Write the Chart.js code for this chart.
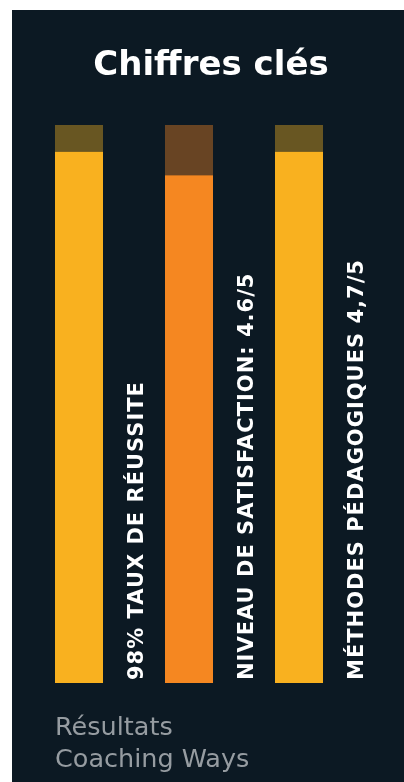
<!DOCTYPE html>
<html>
<head>
<meta charset="utf-8">
<script src="https://cdn.jsdelivr.net/npm/chart.js@4.4.1/dist/chart.umd.min.js"></script>
<style>
  html, body { margin: 0; padding: 0; background: #ffffff; }
  body { width: 404px; height: 782px; position: relative; overflow: hidden; }
  #panel { position: absolute; left: 12px; top: 10px; width: 392px; height: 772px; background: #0c1923; }
  #chartBox { position: absolute; left: 0; top: 0; width: 392px; height: 772px; }
  #title { position: absolute; left: 3px; top: 37px; width: 392px; text-align: center;
           font-family: "DejaVu Sans", sans-serif; font-weight: bold; font-size: 34px; line-height: 32px; color: #ffffff; }
  #footer { position: absolute; left: 43px; top: 700px; font-family: "DejaVu Sans", sans-serif;
            font-weight: normal; font-size: 25.5px; line-height: 32px; color: #969ca1; }
</style>
</head>
<body>
<div id="panel">
  <div id="chartBox"><canvas id="c"></canvas></div>
  <div id="title">Chiffres clés</div>
  <div id="footer">Résultats<br>Coaching Ways</div>
</div>
<script>
const categories = ["98% TAUX DE RÉUSSITE", "NIVEAU DE SATISFACTION: 4.6/5", "MÉTHODES PÉDAGOGIQUES 4,7/5"];
const values = [95.2, 91.0, 95.2];
const trackMax = 100;
const barColors = ["#f9b11f", "#f58721", "#f9b11f"];
const trackColors = ["#685622", "#684423", "#685622"];

const remainders = values.map(v => trackMax - v);

const sideLabels = {
  id: 'sideLabels',
  afterDatasetsDraw(chart) {
    const ctx = chart.ctx;
    const xs = chart.scales.x, ys = chart.scales.y;
    ctx.save();
    ctx.fillStyle = '#ffffff';
    ctx.font = 'bold 21px "DejaVu Sans", sans-serif';
    ctx.letterSpacing = '1px';
    ctx.textAlign = 'left';
    ctx.textBaseline = 'middle';
    categories.forEach((lab, i) => {
      const x = xs.getPixelForValue(i) + 59;
      const y = ys.getPixelForValue(0) - 3;
      ctx.save();
      ctx.translate(x, y);
      ctx.rotate(-Math.PI / 2);
      ctx.fillText(lab, 0, 0);
      ctx.restore();
    });
    ctx.restore();
  }
};

new Chart(document.getElementById('c'), {
  type: 'bar',
  data: {
    labels: categories,
    datasets: [
      { data: values, backgroundColor: barColors, borderWidth: 0, barPercentage: 48/110, categoryPercentage: 1 },
      { data: remainders, backgroundColor: trackColors, borderWidth: 0, barPercentage: 48/110, categoryPercentage: 1 }
    ]
  },
  options: {
    responsive: true,
    maintainAspectRatio: false,
    animation: false,
    layout: { padding: { left: 12, right: 50, top: 115, bottom: 99 } },
    plugins: { legend: { display: false }, tooltip: { enabled: false }, title: { display: false } },
    scales: {
      x: { display: false, stacked: true },
      y: { display: false, stacked: true, min: 0, max: trackMax }
    }
  },
  plugins: [sideLabels]
});
</script>
</body>
</html>
